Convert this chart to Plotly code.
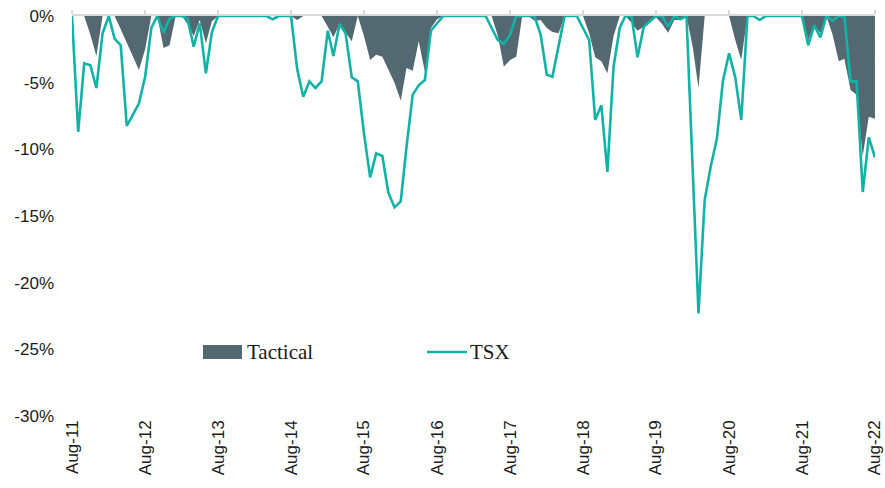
import pandas as pd
import plotly.graph_objects as go

# Monthly drawdowns (%), Aug-2011 .. Aug-2022
months = pd.date_range("2011-08-01", periods=133, freq="MS")

tactical = [
    0, 0, 0, -1.4, -3.0, 0, 0, 0, -1.0, -2.0, -3.0, -4.05,
    -2.5, 0, 0, -2.4, -2.2, 0, 0, -0.6, -1.5, -0.3, -2.05, -0.4,
    0, 0, 0, 0, 0, 0, 0, 0, 0, 0, 0, 0,
    0, -0.3, 0, 0, 0, 0, -0.8, -1.6, -0.6, -1.2, -1.9, 0,
    -1.5, -3.3, -2.9, -3.05, -4.05, -5.0, -6.35, -3.9, -4.1, -1.9, -4.2, -0.9,
    -0.25, 0, 0, 0, 0, 0, 0, 0, 0, 0, -1.5, -3.8,
    -3.3, -3.05, 0, 0, -0.35, -0.3, -0.9, -1.2, -1.3, 0, 0, 0,
    0, -1.3, -3.1, -3.4, -4.3, -1.5, 0, 0, -0.5, -1.1, -0.8, -0.3,
    -0.1, -0.6, -1.25, -0.3, -0.3, 0, -2.3, -5.4, 0, 0, 0, 0,
    0, -1.8, -3.3, 0, 0, 0, 0, 0, 0, 0, 0, 0,
    0, -1.8, -0.7, -1.3, 0, -1.4, -3.4, -3.2, -5.55, -5.9, -10.5, -7.55,
    -7.7,
]

tsx = [
    0, -8.7, -3.55, -3.7, -5.4, -1.3, 0, -1.7, -2.2, -8.25, -7.4, -6.55,
    -4.55, -0.9, 0, -1.25, -0.2, 0, 0, -0.2, -2.3, -0.55, -4.3, -1.2,
    0, 0, 0, 0, 0, 0, 0, 0, 0, -0.25, 0, 0,
    0, -4.0, -6.05, -4.9, -5.4, -4.9, -1.1, -3.0, -0.6, -1.3, -4.6, -4.9,
    -8.8, -12.1, -10.3, -10.5, -13.25, -14.35, -13.9, -9.8, -5.9, -5.2, -4.8, -1.1,
    -0.55, 0, 0, 0, 0, 0, 0, 0, 0, -0.9, -1.8, -2.1,
    -1.4, 0, 0, 0, 0, -1.4, -4.4, -4.55, -2.3, 0, 0, 0,
    -0.9, -1.8, -7.8, -6.7, -11.7, -3.8, -0.9, 0, 0, -3.1, -0.8, -0.4,
    0, 0, -0.8, 0, -0.25, 0, -11.0, -22.3, -13.8, -11.3, -9.2, -4.9,
    -2.8, -4.6, -7.8, 0, 0, -0.3, 0, 0, 0, 0, 0, 0,
    0, -2.2, -0.7, -1.6, 0, -0.35, 0, 0, -4.9, -4.9, -13.2, -9.1,
    -10.6,
]

x_tick_dates = pd.date_range("2011-08-01", periods=12, freq="12MS")
x_tick_labels = ["Aug-11", "Aug-12", "Aug-13", "Aug-14", "Aug-15", "Aug-16",
                 "Aug-17", "Aug-18", "Aug-19", "Aug-20", "Aug-21", "Aug-22"]
y_tick_vals = [0, -5, -10, -15, -20, -25, -30]
y_tick_labels = ["0%", "-5%", "-10%", "-15%", "-20%", "-25%", "-30%"]

series_names = ["Tactical", "TSX"]

SLATE = "#546872"
TEAL = "#12B3A6"
AXIS_GREY = "#D9D9D9"
TEXT = "#1A1A1A"

fig = go.Figure()
fig.add_trace(go.Scatter(
    x=months, y=tactical, name=series_names[0], mode="lines",
    fill="tozeroy", fillcolor=SLATE, line=dict(width=0, color=SLATE),
    showlegend=False,
))
fig.add_trace(go.Scatter(
    x=months, y=tsx, name=series_names[1], mode="lines",
    line=dict(width=2.6, color=TEAL), showlegend=False,
))
# top axis carries the zero line with yearly tick marks
fig.add_trace(go.Scatter(x=[months[0]], y=[None], xaxis="x2", showlegend=False,
                         hoverinfo="skip"))

# Legend: swatch + label pairs, placed inside the plot area
W, H, L, T = 803, 400, 72, 16

def px_x(p):
    return (p - L) / W

def px_y(p):
    return (T + H - p) / H

legend_y = px_y(352)
fig.add_shape(type="rect", xref="paper", yref="paper",
              x0=px_x(203), x1=px_x(242), y0=px_y(359), y1=px_y(345),
              fillcolor=SLATE, line=dict(width=0))
fig.add_shape(type="line", xref="paper", yref="paper",
              x0=px_x(427), x1=px_x(467), y0=legend_y, y1=legend_y,
              line=dict(color=TEAL, width=2.6))
fig.add_annotation(x=px_x(245), y=legend_y, xref="paper", yref="paper",
                   text=series_names[0], showarrow=False, xanchor="left",
                   yanchor="middle",
                   font=dict(family="Liberation Serif", size=21, color=TEXT))
fig.add_annotation(x=px_x(468), y=legend_y, xref="paper", yref="paper",
                   text=series_names[1], showarrow=False, xanchor="left",
                   yanchor="middle",
                   font=dict(family="Liberation Serif", size=21, color=TEXT))

# end a few hours past the last month so its tick label is kept
x_range = [months[0], months[-1] + pd.Timedelta(hours=6)]
fig.update_layout(
    width=885, height=488,
    margin=dict(l=L, r=885 - L - W, t=T, b=488 - T - H, autoexpand=False),
    paper_bgcolor="white", plot_bgcolor="white",
    font=dict(family="Liberation Sans", size=17, color=TEXT),
    xaxis=dict(
        type="date", range=x_range, tickvals=x_tick_dates, ticktext=x_tick_labels,
        tickangle=-90, showgrid=False, zeroline=False, showline=False, ticks="",
        tickfont=dict(size=17, color=TEXT), ticklabeloverflow="allow",
        automargin=False,
    ),
    xaxis2=dict(
        type="date", range=x_range, overlaying="x", side="top", anchor="y",
        tickvals=x_tick_dates, showticklabels=False, showgrid=False,
        zeroline=False, showline=True, linecolor=AXIS_GREY, linewidth=2,
        ticks="outside", ticklen=4, tickcolor=AXIS_GREY, tickwidth=1.5,
        layer="below traces", automargin=False,
    ),
    yaxis=dict(
        range=[-30, 0], tickvals=y_tick_vals, ticktext=y_tick_labels,
        showgrid=False, zeroline=False, showline=False, ticks="",
        ticklabelstandoff=17, tickfont=dict(size=17, color=TEXT),
        automargin=False,
    ),
)

fig.write_html("out.html")
